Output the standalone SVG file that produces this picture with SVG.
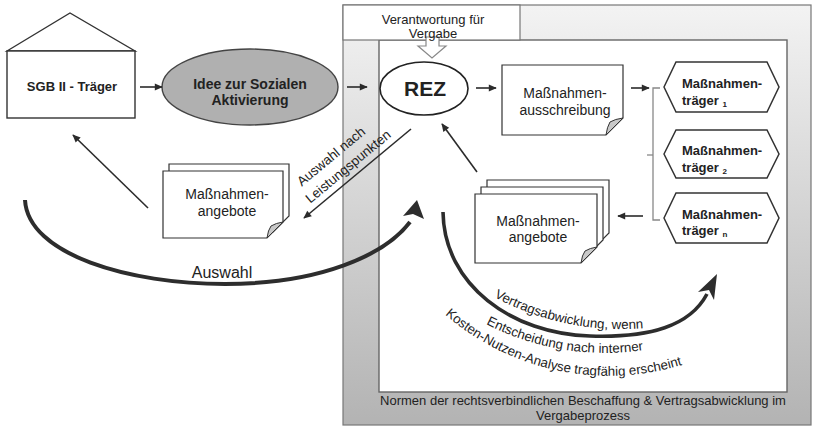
<svg xmlns="http://www.w3.org/2000/svg" width="821" height="428" viewBox="0 0 821 428">
<defs>
<style>
.box{fill:#fff;stroke:#333;stroke-width:1.4}
.doc{fill:#fff;stroke:#333;stroke-width:1.2}
.fold{fill:#c8c8c8;stroke:#333;stroke-width:1}
.t{font-family:"Liberation Sans",Arial,sans-serif;fill:#222}
.b{font-weight:bold}
.c{text-anchor:middle}
.ln{stroke:#2b2b2b;stroke-width:1.6;fill:none}
.cv{stroke:#2d2d2d;stroke-width:4;fill:none}
.ah{fill:#2d2d2d}
</style>
<linearGradient id="gr" x1="0" y1="0" x2="0" y2="1">
<stop offset="0" stop-color="#f3f3f3"/>
<stop offset="1" stop-color="#b3b3b3"/>
</linearGradient>
<marker id="a" viewBox="0 0 10 10" refX="9" refY="5" markerUnits="userSpaceOnUse" markerWidth="9" markerHeight="8" orient="auto">
<path d="M0,0.5 L10,5 L0,9.5 z" fill="#2b2b2b"/>
</marker>
<path id="p1" d="M494,297 A268,268 0 0 0 690.4,319.9"/>
<path id="p2" d="M486,324 A260,260 0 0 0 694,337.3"/>
<path id="p3" d="M445,314.5 A250,250 0 0 0 752.4,330.6"/>
</defs>

<g id="frame">
<rect x="343" y="5" width="468" height="420" fill="url(#gr)" stroke="#777" stroke-width="1.2"/>
<rect x="379" y="40" width="408" height="352" fill="#fff" stroke="#666" stroke-width="1.4"/>
<text class="t c" x="583" y="405" font-size="13">Normen der rechtsverbindlichen Beschaffung &amp; Vertragsabwicklung im</text>
<text class="t c" x="583" y="420" font-size="13">Vergabeprozess</text>
</g>

<g id="verantwortung">
<rect x="343" y="5" width="177" height="35" fill="#fff" stroke="#777" stroke-width="1.2"/>
<polygon points="426,37 439,37 439,46 446,46 432,58 418,46 426,46" fill="#fff" stroke="#888" stroke-width="1.2"/>
<text class="t c" x="433" y="24" font-size="13">Verantwortung für</text>
<text class="t c" x="433" y="38" font-size="13">Vergabe</text>
</g>

<g id="sgb">
<polygon points="7,51 70,13 135,51" fill="#fff" stroke="#333" stroke-width="1.4"/>
<rect class="box" x="7" y="51" width="128" height="67"/>
<text class="t b c" x="72" y="91" font-size="13">SGB II - Träger</text>
</g>

<g id="idee">
<ellipse cx="250" cy="87" rx="88" ry="38" fill="#b0b0b0" stroke="#444" stroke-width="1.4"/>
<text class="t b c" x="250" y="89" font-size="14">Idee zur Sozialen</text>
<text class="t b c" x="250" y="105" font-size="14">Aktivierung</text>
</g>

<g id="rez">
<ellipse cx="424" cy="88.5" rx="44" ry="26.5" fill="#fff" stroke="#222" stroke-width="1.6"/>
<text class="t b c" x="425" y="96" font-size="21">REZ</text>
</g>

<g id="ausschreibung">
<path class="doc" d="M502,65 H623 V118 L606,135 H502 Z"/>
<path class="fold" d="M623,118 L606,135 Q607,127 610,122 Q615,119 623,118 Z"/>
<text class="t c" x="565" y="98" font-size="14">Maßnahmen-</text>
<text class="t c" x="565" y="115" font-size="14">ausschreibung</text>
</g>

<g id="angebote-links">
<path class="doc" d="M169,164 H289 V216 L273,232 H169 Z"/>
<path class="doc" d="M163,171 H283 V222 L267,238 H163 Z"/>
<path class="fold" d="M283,222 L267,238 Q268,230 271,226 Q276,223 283,222 Z"/>
<text class="t c" x="227" y="199" font-size="14">Maßnahmen-</text>
<text class="t c" x="227" y="216" font-size="14">angebote</text>
</g>

<g id="angebote-rechts">
<path class="doc" d="M487,180 H609 V233 L593,249 H487 Z"/>
<path class="doc" d="M481,187 H603 V240 L587,256 H481 Z"/>
<path class="doc" d="M475,194 H597 V247 L581,263 H475 Z"/>
<path class="fold" d="M597,247 L581,263 Q582,255 585,251 Q590,248 597,247 Z"/>
<text class="t c" x="538" y="226" font-size="14">Maßnahmen-</text>
<text class="t c" x="538" y="242" font-size="14">angebote</text>
</g>

<g id="traeger1">
<polygon points="664,87 676,62 767,62 779,87 767,112 676,112" fill="#fff" stroke="#333" stroke-width="1.5"/>
<text class="t b" x="682" y="88" font-size="13">Maßnahmen-</text>
<text class="t b" x="682" y="105" font-size="13">träger <tspan font-size="8" dy="2">1</tspan></text>
</g>
<g id="traeger2">
<polygon points="664,154 676,130 767,130 779,154 767,178 676,178" fill="#fff" stroke="#333" stroke-width="1.5"/>
<text class="t b" x="682" y="155" font-size="13">Maßnahmen-</text>
<text class="t b" x="682" y="172" font-size="13">träger <tspan font-size="8" dy="2">2</tspan></text>
</g>
<g id="traegern">
<polygon points="664,218 676,193 767,193 779,218 767,243 676,243" fill="#fff" stroke="#333" stroke-width="1.5"/>
<text class="t b" x="682" y="219" font-size="13">Maßnahmen-</text>
<text class="t b" x="682" y="235" font-size="13">träger <tspan font-size="8" dy="2">n</tspan></text>
</g>

<g id="connectors">
<line class="ln" x1="140" y1="87" x2="162" y2="87" marker-end="url(#a)"/>
<line class="ln" x1="347" y1="87" x2="367" y2="87" marker-end="url(#a)"/>
<line class="ln" x1="476" y1="88" x2="496" y2="88" marker-end="url(#a)"/>
<line class="ln" x1="631" y1="88" x2="649" y2="88" marker-end="url(#a)"/>
<polyline points="660,88 653,88 653,220 660,220" fill="none" stroke="#888" stroke-width="1.3"/>
<line x1="647" y1="155" x2="653" y2="155" stroke="#888" stroke-width="1.3"/>
<line class="ln" x1="643" y1="216" x2="618" y2="216" marker-end="url(#a)"/>
<line class="ln" x1="477" y1="172" x2="442" y2="124" marker-end="url(#a)"/>
<line class="ln" x1="148" y1="208" x2="73" y2="135" marker-end="url(#a)"/>
<line class="ln" x1="411" y1="129" x2="304" y2="218" marker-end="url(#a)"/>
<text class="t c" font-size="13.5" transform="translate(334,160) rotate(-39.7)">Auswahl nach</text>
<text class="t c" font-size="13.5" transform="translate(351,170) rotate(-39.7)">Leistungspunkten</text>

<path class="cv" d="M25,200 C28,255 130,284 225,284 C320,284 385,255 410,222"/>
<polygon class="ah" points="417,200 424,219 413,214 403,216"/>
<text class="t c" x="222" y="278" font-size="16">Auswahl</text>

<path class="cv" style="stroke-width:3.6" d="M443,212 C444,285 512,334 590,336 C650,338 690,326 707,294"/>
<polygon class="ah" points="717,274 714,300 709,290 698,292"/>
<text class="t" font-size="13.3"><textPath href="#p1">Vertragsabwicklung, wenn</textPath></text>
<text class="t" font-size="13.3"><textPath href="#p2">Entscheidung nach interner</textPath></text>
<text class="t" font-size="13.3"><textPath href="#p3">Kosten-Nutzen-Analyse tragfähig erscheint</textPath></text>
</g>
</svg>
